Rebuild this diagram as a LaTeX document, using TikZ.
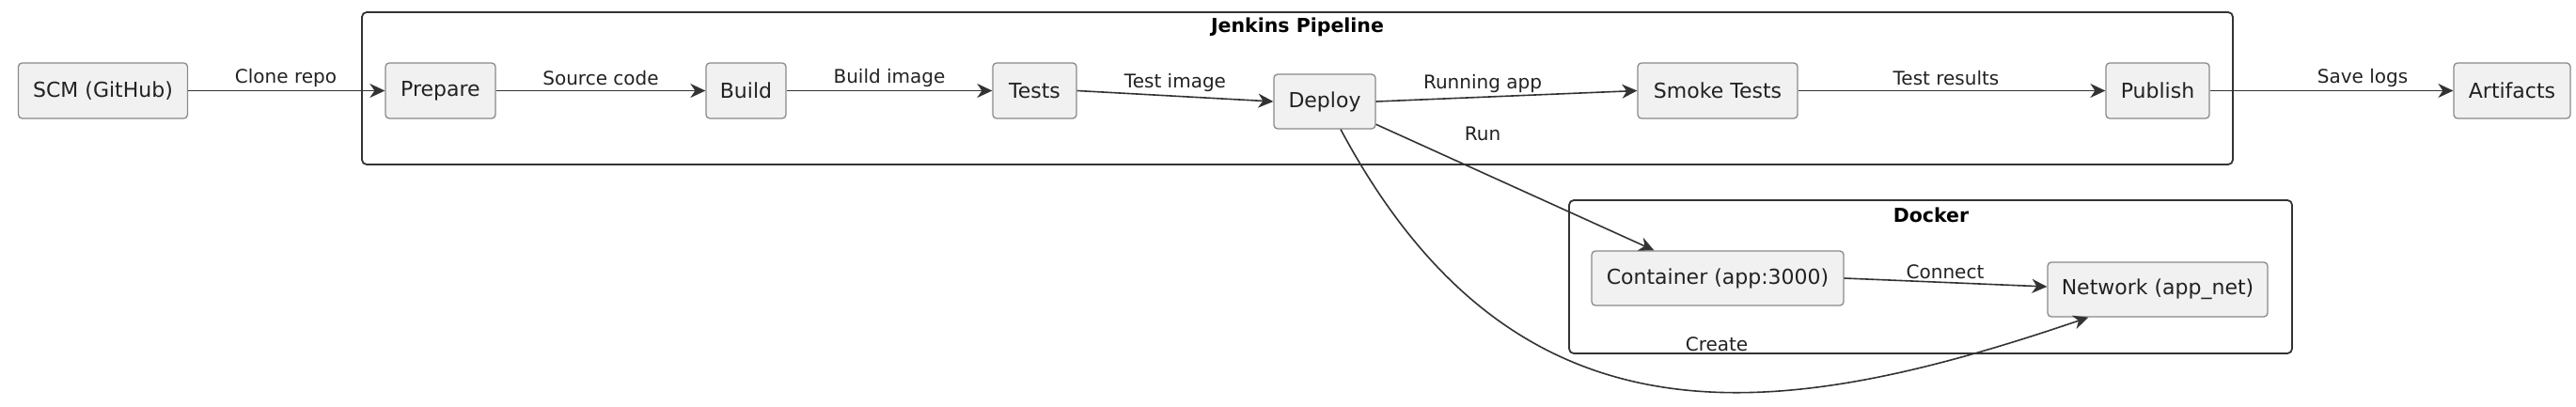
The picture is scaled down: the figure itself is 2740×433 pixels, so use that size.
\documentclass[tikz,border=0pt]{standalone}
\usepackage{fontspec}
\setmainfont{DejaVu Sans}
\usetikzlibrary{arrows.meta,calc}
\definecolor{nodefill}{HTML}{F1F1F1}
\definecolor{nodeline}{HTML}{8A8A8A}
\definecolor{ink}{HTML}{222222}
\definecolor{clusterline}{HTML}{333333}
\tikzset{
  box/.style={draw=nodeline, line width=1.3pt, fill=nodefill, rounded corners=4pt,
    inner sep=0pt, text=ink, font=\fontsize{22}{26}\selectfont},
  cluster/.style={draw=clusterline, line width=1.8pt, rounded corners=5pt},
  ctitle/.style={font=\fontsize{20.5}{24}\selectfont\bfseries, text=black, inner sep=0pt},
  elabel/.style={font=\fontsize{20}{24}\selectfont, text=ink, inner sep=0pt},
  arr/.style={draw=clusterline, line width=1.6pt,
    -{Stealth[length=16pt,width=15pt,inset=5pt]}}
}
\begin{document}
\begin{tikzpicture}[x=1pt,y=-1pt]
\useasboundingbox[fill=white] (0,0) rectangle (2740,433);
% clusters
\draw[cluster] (385,13) rectangle (2375,175);
\node[ctitle] (jtitle) at (1380,29) {Jenkins Pipeline};
\draw[cluster] (1669,213) rectangle (2438,376);
\node[ctitle] (dtitle) at (2054,229) {Docker};
% nodes
\node[box, minimum width=180pt, minimum height=59pt] (scm) at (109.5,96.5) {SCM (GitHub)};
\node[box, minimum width=117pt, minimum height=59pt] (prepare) at (468.5,96.5) {Prepare};
\node[box, minimum width=85pt, minimum height=59pt] (build) at (793.5,96.5) {Build};
\node[box, minimum width=89pt, minimum height=59pt] (tests) at (1100.5,96.5) {Tests};
\node[box, minimum width=108pt, minimum height=58pt] (deploy) at (1409,108) {Deploy};
\node[box, minimum width=170pt, minimum height=59pt] (smoke) at (1827,96.5) {Smoke Tests};
\node[box, minimum width=110pt, minimum height=59pt] (publish) at (2295,96.5) {Publish};
\node[box, minimum width=124pt, minimum height=59pt] (artifacts) at (2672,96.5) {Artifacts};
\node[box, minimum width=268pt, minimum height=58pt] (container) at (1827,296) {Container (app:3000)};
\node[box, minimum width=234pt, minimum height=58pt] (network) at (2295,308) {Network (app\_net)};
% edges
\draw[arr] (scm.east) -- (prepare.west);
\node[elabel] (l1) at (304,83) {Clone repo};
\draw[arr] (prepare.east) -- (build.west);
\node[elabel] (l2) at (639,83) {Source code};
\draw[arr] (build.east) -- (tests.west);
\node[elabel] (l3) at (946,83) {Build image};
\draw[arr] (tests.east) -- (deploy.west);
\node[elabel] (l4) at (1250,88) {Test image};
\draw[arr] (deploy.east) -- (smoke.west);
\node[elabel] (l5) at (1577,89) {Running app};
\draw[arr] (smoke.east) -- (publish.west);
\node[elabel] (l6) at (2070,83) {Test results};
\draw[arr] (publish.east) -- (artifacts.west);
\node[elabel] (l7) at (2513,83) {Save logs};
\draw[arr] (deploy.-24) -- ([xshift=67pt]container.north west);
\node[elabel] (l8) at (1577,142) {Run};
\draw[arr] (container.east) -- ([yshift=3pt]network.west);
\node[elabel] (l9) at (2069,289) {Connect};
\draw[arr] ([xshift=17pt]deploy.south) .. controls (1614,489) and (1891,450) .. ([xshift=44pt]network.south west);
\node[elabel] (l10) at (1826,366) {Create};
\end{tikzpicture}
\end{document}
